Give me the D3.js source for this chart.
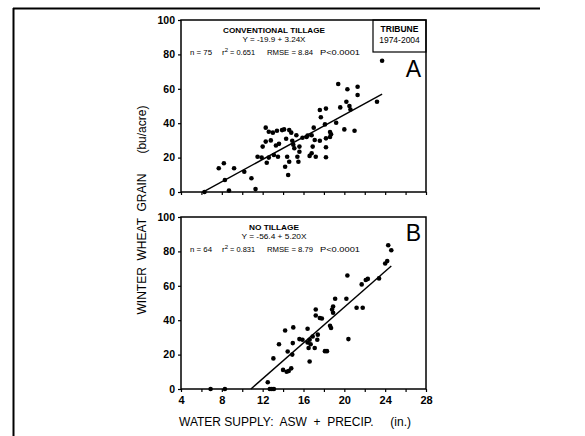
<!DOCTYPE html>
<html>
<head>
<meta charset="utf-8">
<script src="https://cdn.jsdelivr.net/npm/d3@7"></script>
<style>
  body { margin: 0; background: #fff; }
  svg { display: block; }
  text { font-family: "Liberation Sans", Arial, sans-serif; fill: #000; }
  .note { font-size: 8px; }
</style>
</head>
<body>
<svg id="chart" width="585" height="436"></svg>
<script>
// conventional tillage (panel A): [water supply in., yield bu/acre]
const conventional = [
  [6.3, 0], [7.7, 13.8], [8.2, 16.7], [8.3, 7], [8.7, 0.8], [9.2, 13.8],
  [10.2, 11.8], [10.9, 8], [11.3, 1.7], [11.5, 20.5], [11.9, 20], [12.0, 26.4],
  [12.3, 37.4], [12.3, 29.3], [12.4, 17], [12.6, 20], [12.6, 35], [12.8, 30],
  [13.0, 34.5], [13.1, 21.5], [13.3, 27], [13.4, 35.6], [13.5, 20.5], [13.6, 28],
  [13.9, 36], [14.1, 36.4], [14.2, 14.7], [14.3, 31], [14.4, 20.5], [14.5, 9.9],
  [14.6, 17.6], [14.6, 36], [14.8, 34.5], [14.9, 29.8], [15.0, 27.5], [15.1, 25.4],
  [15.3, 33], [15.4, 20.5], [15.5, 17.6], [15.6, 26.4], [15.6, 23.4], [15.9, 31.5],
  [16.3, 32], [16.4, 32.8], [16.6, 21], [16.8, 33], [16.8, 22.5], [16.9, 26.4],
  [17.0, 37.4], [17.1, 30.2], [17.2, 20.5], [17.6, 29.8], [17.6, 47.7], [17.7, 43.5],
  [18.1, 39.3], [18.2, 48.5], [18.2, 26], [18.2, 31.2], [18.2, 20.2], [18.6, 34.9],
  [18.6, 32], [18.7, 33.6], [19.2, 40.3], [19.4, 62.8], [19.6, 49.2], [20.0, 36.4],
  [20.2, 52.5], [20.3, 59.7], [20.5, 50], [20.6, 48], [21.0, 35.6], [21.3, 61.2],
  [21.3, 56.4], [23.2, 52.5], [23.7, 76.3]
];

// no tillage (panel B)
const noTill = [
  [6.9, 0], [8.3, 0], [12.5, 3.9], [12.7, 0], [12.9, 0], [13.1, 0], [13.05, 17.8],
  [13.6, 26], [14.0, 11.1], [14.2, 34], [14.35, 10], [14.45, 21.8], [14.55, 10.5],
  [14.8, 12], [14.9, 20], [14.95, 26.7], [15.0, 35.8], [15.6, 29], [15.9, 28.6],
  [16.4, 35], [16.4, 27], [16.5, 23.8], [16.6, 28.6], [16.6, 16], [16.7, 26],
  [16.9, 30.5], [17.1, 23.8], [17.2, 46.2], [17.2, 42.7], [17.35, 28.6], [17.4, 31.6],
  [17.6, 41.3], [17.8, 41], [18.1, 22], [18.3, 22], [18.6, 36.8], [18.7, 35.5],
  [18.8, 46.2], [18.9, 44.3], [18.9, 48], [19.1, 52.5], [20.2, 52.5], [20.3, 66],
  [20.4, 29], [21.2, 47.2], [21.7, 60.8], [21.8, 47.2], [22.1, 63.4], [22.3, 64],
  [23.4, 64.3], [24.0, 73], [24.2, 74.4], [24.3, 83.6], [24.6, 80.7]
];

// regression lines: intercept, slope, x start (y = 0), x end
const fitA = { a: -19.9, b: 3.24, x0: 6.14, x1: 23.7 };
const fitB = { a: -56.4, b: 5.20, x0: 10.85, x1: 24.6 };

const xTicks = [4, 8, 12, 16, 20, 24, 28];
const yTicks = [0, 20, 40, 60, 80, 100];

const notesA = ["CONVENTIONAL TILLAGE", "Y = -19.9 + 3.24X"];
const statsA = ["n = 75", "0.651", "RMSE = 8.84", "P<0.0001"];
const notesB = ["NO TILLAGE", "Y = -56.4 + 5.20X"];
const statsB = ["n = 64", "0.831", "RMSE = 8.79", "P<0.0001"];

const svg = d3.select("#chart");

// partial frame of the scanned page
svg.append("line").attr("x1", 13).attr("x2", 540).attr("y1", 8.5).attr("y2", 8.5)
  .attr("stroke", "#000").attr("stroke-width", 2);
svg.append("line").attr("x1", 13.5).attr("x2", 13.5).attr("y1", 8).attr("y2", 436)
  .attr("stroke", "#000").attr("stroke-width", 2);

const x = d3.scaleLinear().domain([4, 28]).range([181, 426]);

// condensed small text, squeezed to the width it has in the scan
function note(g, tx, ty, str, w, anchor) {
  return g.append("text").attr("class", "note").attr("x", tx).attr("y", ty)
    .attr("text-anchor", anchor || "start")
    .attr("textLength", w).attr("lengthAdjust", "spacingAndGlyphs").text(str);
}

function panel(yRange, pts, fit, notes, stats, letter, showX, widths) {
  const y = d3.scaleLinear().domain([0, 100]).range(yRange);
  const g = svg.append("g");

  // frame
  g.append("rect")
    .attr("x", x(4)).attr("y", y(100))
    .attr("width", x(28) - x(4)).attr("height", y(0) - y(100))
    .attr("fill", "none").attr("stroke", "#000").attr("stroke-width", 1.5);

  // y axis
  const ya = g.append("g").attr("transform", `translate(${x(4)},0)`)
    .call(d3.axisLeft(y).tickValues(yTicks).tickSize(3).tickPadding(3));
  ya.select(".domain").remove();
  ya.selectAll("line").attr("stroke-width", 1.2);
  ya.selectAll("text").style("font-size", "10.5px").style("font-weight", "bold")
    .style("font-family", "Liberation Sans, Arial");

  // x axis, minor ticks every 2
  const xa = g.append("g").attr("transform", `translate(0,${y(0)})`)
    .call(d3.axisBottom(x).ticks(12).tickSize(3).tickPadding(4)
      .tickFormat((d) => (showX && xTicks.includes(d) ? d : "")));
  xa.select(".domain").remove();
  xa.selectAll("line").attr("stroke-width", 1.2);
  xa.selectAll("text").style("font-size", "11px").style("font-weight", "bold")
    .style("font-family", "Liberation Sans, Arial");

  // points
  g.selectAll("circle").data(pts).enter().append("circle")
    .attr("cx", (d) => x(d[0])).attr("cy", (d) => y(d[1]))
    .attr("r", 2.3).attr("fill", "#000");

  // fit line
  const line = d3.line().x((d) => x(d)).y((d) => y(fit.a + fit.b * d));
  g.append("path").attr("d", line([fit.x0, fit.x1]))
    .attr("fill", "none").attr("stroke", "#000").attr("stroke-width", 1.4);

  // annotations
  const top = y(100);
  note(g, 274, top + 13, notes[0], widths[0], "middle").style("font-weight", "bold");
  note(g, 274, top + 22, notes[1], widths[1], "middle");
  const sy = top + 35;
  note(g, 190, sy, stats[0], 22);
  const r2 = g.append("text").attr("class", "note").attr("x", 222).attr("y", sy);
  r2.append("tspan").text("r");
  r2.append("tspan").attr("dy", -3.5).style("font-size", "6px").text("2");
  r2.append("tspan").attr("dy", 3.5).attr("textLength", 27)
    .attr("lengthAdjust", "spacingAndGlyphs").text(" = " + stats[1]);
  note(g, 267, sy, stats[2], 46);
  note(g, 320, sy, stats[3], 40);

  g.append("text").attr("x", 421).attr("y", top + (letter === "A" ? 57 : 24))
    .attr("text-anchor", "end").style("font-size", "23px").text(letter);
  return y;
}

panel([192, 20], conventional, fitA, notesA, statsA, "A", false, [102, 63]);
panel([389, 217], noTill, fitB, notesB, statsB, "B", true, [50, 65]);

// location box in panel A
svg.append("rect").attr("x", 373).attr("y", 20).attr("width", 53).attr("height", 32)
  .attr("fill", "none").attr("stroke", "#000").attr("stroke-width", 1.2);
svg.append("text").attr("x", 399.5).attr("y", 32).attr("text-anchor", "middle")
  .style("font-size", "8.5px").style("font-weight", "bold").text("TRIBUNE");
svg.append("text").attr("x", 399.5).attr("y", 43).attr("text-anchor", "middle")
  .style("font-size", "8.5px").text("1974-2004");

// axis titles
svg.append("text").attr("x", 295).attr("y", 426).attr("text-anchor", "middle")
  .style("font-size", "12px").attr("xml:space", "preserve")
  .text("WATER SUPPLY:  ASW  +  PRECIP.     (in.)");
svg.append("text").attr("transform", "translate(146,210) rotate(-90)")
  .attr("text-anchor", "middle").style("font-size", "12px").attr("xml:space", "preserve")
  .text("WINTER  WHEAT  GRAIN      (bu/acre)");
</script>
</body>
</html>
